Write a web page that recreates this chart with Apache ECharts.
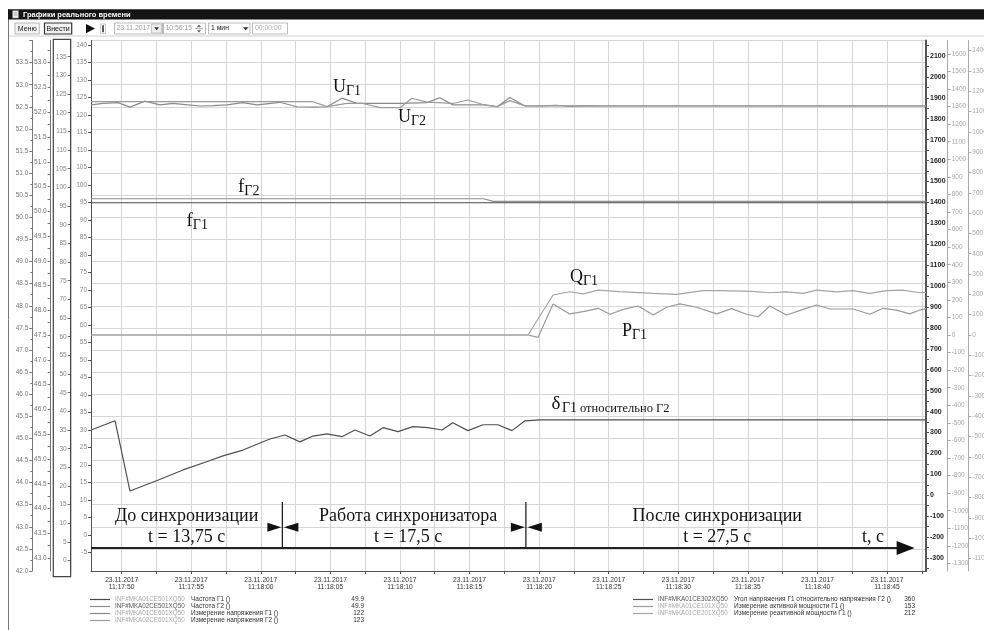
<!DOCTYPE html>
<html><head><meta charset="utf-8">
<script src="https://cdn.jsdelivr.net/npm/echarts@6/dist/echarts.min.js"></script>
<style>html,body{margin:0;padding:0;background:#fff;}#c{width:984px;height:630px;}</style>
</head><body><div id="c"></div>
<script>
// ---------- DATA (time = seconds relative to 23.11.2017 11:17:50) ----------
const baseDate = '23.11.2017';
const baseClockSec = 11 * 3600 + 17 * 60 + 50;
const xMin = -2.2, xMax = 57.8;                 // 1-minute window
const xLabelValues = [0, 5, 10, 15, 20, 25, 30, 35, 40, 45, 50, 55];

// Frequencies (Hz)
const tF  = [-2.2, 26.0, 26.7, 57.8];
const fG1 = [50.33, 50.33, 50.33, 50.33];
const fG2 = [50.42, 50.42, 50.36, 50.36];

// Voltages
const tU1 = [-2.2,-1.34,-0.26,0.6,1.68,2.76,3.69,4.77,5.63,6.57,7.57,8.72,9.73,11.37,12.6,13.75,14.76,15.83,16.91,18.92,20.0,21.94,22.87,23.8,25.97,26.98,27.9,28.98,30.06,31.2,32.3,33.4,34.4,57.8];
const U1  = [122.1,122.5,122.7,121.5,123.1,122.1,122.5,122.1,121.8,121.9,122.1,122.7,122.1,122.8,121.6,121.5,121.6,123.9,122.5,122.5,122.5,122.7,124.0,122.1,122.1,121.6,124.1,121.8,121.8,122.0,121.7,121.9,121.8,121.8];
const tU2 = [-2.2,13.75,14.76,16.19,17.34,18.56,20.0,20.86,21.94,23.8,24.88,25.97,26.98,27.9,28.98,57.8];
const U2  = [123.8,123.8,122.4,123.3,123.3,122.1,122.1,124.8,123.7,123.3,124.3,123.0,122.4,124.1,122.6,122.6];

// Angle G1 relative to G2 (deg)
const tD = [-2.2,-0.47,0.6,2.64,4.41,6.11,7.28,8.72,9.94,10.66,11.74,12.81,13.75,14.76,15.83,16.77,17.84,18.78,19.86,20.93,22.01,23.02,23.8,24.88,25.97,27.04,28.05,28.98,30.06,57.8];
const D  = [312,356,20,73,121,160,188,216,250,269,288,255,283,293,280,312,283,323,304,328,323,312,347,309,337,337,309,356,360,360];

// Active power P
const tP = [-2.2,29.2,29.93,31.0,32.2,33.17,34.25,35.09,36.04,37.12,38.2,39.16,40.12,41.31,42.75,43.83,44.91,45.74,46.58,47.78,48.97,49.94,50.9,52.56,53.76,54.72,55.68,56.63,57.35,57.8];
const P  = [0,0,-13,177,120,133,152,118,146,165,114,158,177,158,120,150,118,104,165,114,146,171,148,148,118,152,142,120,142,150];

// Reactive power Q
const tQ = [-2.2,29.2,31.0,32.2,33.17,34.25,35.8,38.17,39.88,41.77,42.99,45.36,46.58,47.78,48.97,49.94,51.37,52.54,53.76,54.96,56.13,57.35,57.8];
const Q  = [0,0,197,213,202,221,213,205,200,218,218,215,208,212,205,221,212,218,205,218,221,208,210];

// Series names / legend
const names = ['Частота Г1 ()','Частота Г2 ()','Измерение напряжения Г1 ()','Измерение напряжения Г2 ()',
  'Угол напряжения Г1 относительно напряжения Г2 ()','Измерение активной мощности Г1 ()','Измерение реактивной мощности Г1 ()'];
const tags = ['INF#MKA01CE501XQ50','INF#MKA02CE501XQ50','INF#MKA01CE601XQ50','INF#MKA02CE601XQ50',
  'INF#MKA01CE302XQ50','INF#MKA01CE101XQ50','INF#MKA01CE201XQ50'];
const tagDark = [false,true,false,false,true,false,false];
const legendValues = ['49.9','49.9','122','123','360','153','212'];

// Axis tick labels
const col2Labels = [43,43.5,44,44.5,45,45.5,46,46.5,47,47.5,48,48.5,49,49.5,50,50.5,51,51.5,52,52.5,53];
const col3Labels = [0,5,10,15,20,25,30,35,40,45,50,55,60,65,70,75,80,85,90,95,100,105,110,115,120,125,130,135];
const col4Labels = [-5,0,5,10,15,20,25,30,35,40,45,50,55,60,65,70,75,80,85,90,95,100,105,110,115,120,125,130,135,140];
const r1Labels = [-300,-200,-100,0,100,200,300,400,500,600,700,800,900,1000,1100,1200,1300,1400,1500,1600,1700,1800,1900,2000,2100];
const r2Labels = [-1300,-1200,-1100,-1000,-900,-800,-700,-600,-500,-400,-300,-200,-100,0,100,200,300,400,500,600,700,800,900,1000,1100,1200,1300,1400,1500,1600];
const r3Labels = [-1100,-1000,-900,-800,-700,-600,-500,-400,-300,-200,-100,0,100,200,300,400,500,600,700,800,900,1000,1100,1200,1300,1400];

// Annotation texts
const phaseNames = ['До синхронизации','Работа синхронизатора','После синхронизации'];
const phaseDurations = [13.75, 17.5, 27.5];
const phaseLabels = ['t = 13,75 с','t = 17,5 с','t = 27,5 с'];

// ---------- HELPERS ----------
const zip = (t, v) => t.map((x, i) => [x, v[i]]);
const range = (a, b, s) => { const r = []; for (let v = a; v <= b + 1e-9; v += s) r.push(+v.toFixed(4)); return r; };
const pad = n => String(n).padStart(2, '0');
function clock(s) {
  const tot = baseClockSec + Math.round(s);
  return pad(Math.floor(tot / 3600)) + ':' + pad(Math.floor(tot / 60) % 60) + ':' + pad(tot % 60);
}
const SANS = '"Liberation Sans", Arial, sans-serif';
const SERIF = '"Liberation Serif", "Times New Roman", serif';

function yAx(o) {
  return {
    type: 'value', position: o.pos, offset: o.offset, min: o.min, max: o.max,
    interval: o.interval,
    axisLine: { show: true, onZero: false, lineStyle: { color: o.line, width: o.lw || 1 } },
    axisTick: { show: true, length: 3, customValues: o.ticks, lineStyle: { color: o.line } },
    minorTick: o.minor ? { show: true, splitNumber: 2, length: 2, lineStyle: { color: o.line } } : { show: false },
    axisLabel: { show: true, customValues: o.labels, fontSize: o.fs || 6.5, fontWeight: o.bold ? 'bold' : 'normal',
      color: o.lc, margin: 4, fontFamily: SANS, formatter: o.fmt },
    splitLine: o.split ? { show: true, lineStyle: { color: '#d6d6d6', width: 1 } } : { show: false },
    axisPointer: { show: false }
  };
}

const dom = document.getElementById('c');
const chart = echarts.init(dom, null, { renderer: 'canvas' });

const colors = ['#4a4a4a', '#8e8e8e', '#8a8a8a', '#9a9a9a', '#505050', '#9a9a9a', '#a4a4a4'];

const legendRich = {
  tagL: { color: '#aaaaaa', width: 76, fontSize: 6.3, fontFamily: SANS, lineHeight: 7 },
  tagD: { color: '#555555', width: 76, fontSize: 6.3, fontFamily: SANS, lineHeight: 7 },
  nmL: { color: '#333', width: 160, fontSize: 6.5, fontFamily: SANS, lineHeight: 7 },
  nmR: { color: '#333', width: 168, fontSize: 6.5, fontFamily: SANS, lineHeight: 7 },
  val: { color: '#333', width: 13, align: 'right', fontSize: 6.5, fontFamily: SANS, lineHeight: 7 }
};
function legendFmt(side) {
  return name => {
    const i = names.indexOf(name);
    return '{' + (tagDark[i] ? 'tagD' : 'tagL') + '|' + tags[i] + '}{' + side + '|' + name + '}{val|' + legendValues[i] + '}';
  };
}

const option = {
  animation: false,
  textStyle: { fontFamily: SANS },
  grid: { left: 91, right: 58, top: 40.5, bottom: 59, containLabel: false, outerBoundsMode: 'none' },
  xAxis: {
    type: 'value', min: xMin, max: xMax,
    axisLine: { show: true, onZero: false, lineStyle: { color: '#555', width: 1 } },
    axisTick: { show: true, length: 3, customValues: range(0, 57.5, 2.5), lineStyle: { color: '#555' } },
    axisLabel: { customValues: xLabelValues, fontSize: 6.7, lineHeight: 7.5, color: '#333', margin: 5, fontFamily: SANS,
      formatter: v => baseDate + '\n' + clock(v) },
    splitLine: { show: true, lineStyle: { color: '#d6d6d6', width: 1 } },
    axisPointer: { show: false }
  },
  yAxis: [
    yAx({ pos: 'left', offset: 58.7, min: 42, max: 54, interval: 0.5, line: '#777', lc: '#777', minor: true, split: true,
      fmt: v => v >= 54 ? '' : v.toFixed(1) }),
    yAx({ pos: 'left', offset: 40.3, min: 42.738, max: 53.448, line: '#777', lc: '#777',
      ticks: range(43, 53.25, 0.25), labels: col2Labels, fmt: v => v.toFixed(1) }),
    yAx({ pos: 'left', offset: 20.3, min: -2.76, max: 139.35, line: '#666', lc: '#888',
      ticks: col3Labels, labels: col3Labels, fmt: v => String(v) }),
    yAx({ pos: 'left', offset: 0, min: -10.29, max: 141.29, line: '#555', lc: '#888',
      ticks: col4Labels, labels: col4Labels, fmt: v => String(v) }),
    yAx({ pos: 'right', offset: 0, min: -362.2, max: 2174.1, line: '#555', lw: 2, lc: '#222', bold: true, fs: 7,
      ticks: range(-350, 2150, 50), labels: r1Labels, fmt: v => String(v) }),
    yAx({ pos: 'right', offset: 21.7, min: -1343, max: 1676, line: '#aaa', lc: '#a8a8a8',
      ticks: r2Labels, labels: r2Labels, fmt: v => String(v) }),
    yAx({ pos: 'right', offset: 42.3, min: -1161.4, max: 1449.3, line: '#aaa', lc: '#a8a8a8',
      ticks: r3Labels, labels: r3Labels, fmt: v => String(v) })
  ],
  legend: [
    { data: names.slice(0, 4), left: 90, top: 596, orient: 'vertical', itemWidth: 20, itemHeight: 1.2, itemGap: 0,
      icon: 'rect', selectedMode: false, padding: 0, textStyle: { fontSize: 6.5, lineHeight: 7, rich: legendRich },
      formatter: legendFmt('nmL') },
    { data: names.slice(4), left: 633, top: 596, orient: 'vertical', itemWidth: 20, itemHeight: 1.2, itemGap: 0,
      icon: 'rect', selectedMode: false, padding: 0, textStyle: { fontSize: 6.5, lineHeight: 7, rich: legendRich },
      formatter: legendFmt('nmR') }
  ],
  series: [
    { name: names[5], type: 'line', yAxisIndex: 5, data: zip(tP, P) },
    { name: names[6], type: 'line', yAxisIndex: 6, data: zip(tQ, Q) },
    { name: names[1], type: 'line', yAxisIndex: 0, data: zip(tF, fG2) },
    { name: names[0], type: 'line', yAxisIndex: 0, data: zip(tF, fG1) },
    { name: names[2], type: 'line', yAxisIndex: 2, data: zip(tU1, U1) },
    { name: names[3], type: 'line', yAxisIndex: 3, data: zip(tU2, U2) },
    { name: names[4], type: 'line', yAxisIndex: 4, data: zip(tD, D) }
  ].map(s => {
    const i = names.indexOf(s.name);
    return Object.assign(s, { symbol: 'none', showSymbol: false, silent: true, color: colors[i],
      lineStyle: { color: colors[i], width: 1.2 }, emphasis: { disabled: true } });
  })
};
chart.setOption(option);

// ---------- DECORATION / ANNOTATIONS ----------
const g = [];
const txt = (x, y, text, font, fill, align, extra) => g.push(Object.assign({ type: 'text', x, y, z: 100,
  style: { text, font, fill, align: align || 'left', verticalAlign: 'middle' } }, extra || {}));
const rect = (x, y, w, h, style) => g.push({ type: 'rect', z: 100, shape: { x, y, width: w, height: h }, style });
const line = (x1, y1, x2, y2, stroke, lw) => g.push({ type: 'line', z: 100, shape: { x1, y1, x2, y2 }, style: { stroke, lineWidth: lw } });
const poly = (pts, fill) => g.push({ type: 'polygon', z: 100, shape: { points: pts }, style: { fill } });

// window frame / title bar
line(8.5, 9, 8.5, 630, '#777', 1);
rect(8, 9.3, 976, 10.2, { fill: '#141414' });
rect(12.5, 10.6, 6, 7.5, { fill: '#eeeeee', stroke: '#777', lineWidth: 0.5 });
line(13.8, 13, 17.2, 13, '#777', 0.6); line(13.8, 15, 17.2, 15, '#777', 0.6);
txt(23, 14.5, 'Графики реального времени', 'bold 7.5px ' + SANS, '#ffffff');
// toolbar
line(9, 36, 984, 36, '#cfcfcf', 1);
rect(15, 23, 24.3, 11, { fill: '#f2f2f2', stroke: '#aaa', lineWidth: 0.8 });
txt(27.2, 28.6, 'Меню', '7px ' + SANS, '#222', 'center');
rect(44.5, 23, 27.2, 11, { fill: '#f2f2f2', stroke: '#333', lineWidth: 1.2 });
txt(58.1, 28.6, 'Внести', '7px ' + SANS, '#111', 'center');
poly([[86, 24], [86, 33.3], [95, 28.6]], '#111');
rect(100.5, 24, 5, 9.5, { fill: 'none', stroke: '#aaa', lineWidth: 0.6 });
rect(102.2, 25.3, 1.6, 7, { fill: '#333' });
rect(114.5, 23, 48, 11, { fill: '#fff', stroke: '#aaa', lineWidth: 0.8 });
txt(116.5, 28.6, '23.11.2017', '6.8px ' + SANS, '#999');
rect(151.5, 24, 10, 9, { fill: '#eee', stroke: '#aaa', lineWidth: 0.6 });
poly([[154.2, 27.3], [159, 27.3], [156.6, 30.3]], '#333');
rect(163.5, 23, 42, 11, { fill: '#fff', stroke: '#aaa', lineWidth: 0.8 });
txt(165.5, 28.6, '10:56:15', '6.8px ' + SANS, '#999');
poly([[197, 27], [201, 27], [199, 24.8]], '#555');
poly([[197, 30.2], [201, 30.2], [199, 32.4]], '#555');
line(195.5, 28.6, 202.5, 28.6, '#555', 0.6);
rect(208.5, 23, 41.5, 11, { fill: '#fff', stroke: '#aaa', lineWidth: 0.8 });
txt(211, 28.6, '1 мин', '6.8px ' + SANS, '#222');
poly([[242.8, 27.3], [248.6, 27.3], [245.7, 30.3]], '#333');
rect(252.5, 23, 35, 11, { fill: '#fff', stroke: '#aaa', lineWidth: 0.8 });
txt(255, 28.6, '00:00:00', '6.8px ' + SANS, '#aaa');
// selected axis box
rect(53.3, 39.3, 17.4, 537.4, { fill: 'none', stroke: '#444', lineWidth: 1.2 });

// curve labels with subscripts
function sub(x, base, main, subText, mainSize, subSize) {
  const mfont = mainSize + 'px ' + SERIF;
  txt(x, base - 0.34 * mainSize, main, mfont, '#111');
  const w = echarts.format.getTextRect ? echarts.format.getTextRect(main, mfont).width : mainSize * 0.7;
  txt(x + w, base + 3 - 0.34 * subSize, subText, subSize + 'px ' + SERIF, '#111');
}
sub(333, 93, 'U', 'Г1', 18, 14);
sub(398, 123, 'U', 'Г2', 18, 14);
sub(238, 193, 'f', 'Г2', 19, 14);
sub(186.5, 227, 'f', 'Г1', 19, 14);
sub(570, 283, 'Q', 'Г1', 18, 14);
sub(622, 337, 'P', 'Г1', 18, 14);
txt(551.5, 410 - 0.34 * 19, 'δ', '19px ' + SERIF, '#111');
txt(562, 413 - 0.34 * 14, 'Г1', '14px ' + SERIF, '#111');
txt(580, 413 - 0.34 * 12.5, 'относительно Г2', '12.5px ' + SERIF, '#111');

// phase annotations, positioned through the x axis scale
const px = t => chart.convertToPixel({ xAxisIndex: 0 }, t);
const bounds = [xMin];
phaseDurations.forEach(d => bounds.push(bounds[bounds.length - 1] + d));
const bx = bounds.map(px);
const arrowY = 548;
for (let i = 0; i < 3; i++) {
  const cx = (bx[i] + bx[i + 1]) / 2 + (i === 1 ? 4 : 0);
  txt(cx, 516, phaseNames[i], '18px ' + SERIF, '#111', 'center');
  txt(cx, 537.5, phaseLabels[i], '18px ' + SERIF, '#111', 'center');
}
for (let i = 1; i < 3; i++) {
  const x = bx[i];
  line(x, 502, x, arrowY, '#111', 1.2);
  poly([[x - 15, 522.7], [x - 15, 531.7], [x - 1, 527.2]], '#111');
  poly([[x + 16, 522.7], [x + 16, 531.7], [x + 1.5, 527.2]], '#111');
}
line(bx[0], arrowY, bx[3] - 8, arrowY, '#222', 2);
poly([[bx[3] - 12, arrowY - 7], [bx[3] - 12, arrowY + 7], [bx[3] + 6, arrowY]], '#111');
txt(862, 537.5, 't, с', '18px ' + SERIF, '#111');

chart.setOption({ graphic: g });
</script></body></html>
